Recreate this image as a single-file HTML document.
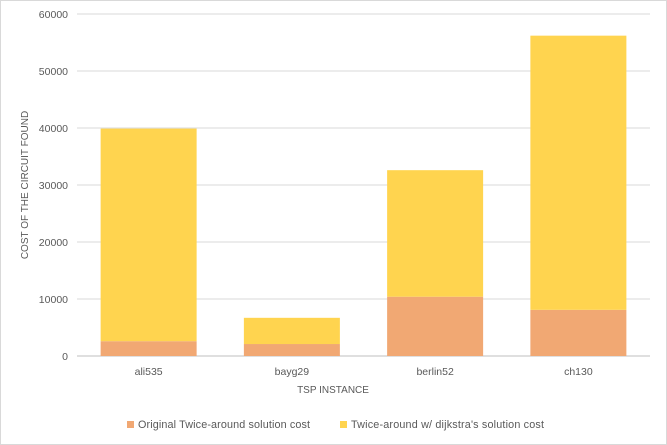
<!DOCTYPE html>
<html><head><style>
body{margin:0;background:#fff;}
svg{display:block;font-family:"Liberation Sans",sans-serif;}
</style></head><body>
<svg id="chart" width="667" height="445">
<rect x="0.5" y="0.5" width="666" height="444" fill="#fff" stroke="#d9d9d9"/>
<g id="grid"></g><g id="bars"></g><g id="labels"></g>
<text x="333" y="393" text-anchor="middle" font-size="10" fill="#595959">TSP INSTANCE</text>
<text transform="translate(28,185) rotate(-90)" text-anchor="middle" font-size="10" fill="#595959">COST OF THE CIRCUIT FOUND</text>
<g>
<rect x="127" y="421" width="7" height="7" fill="#F1A873"/>
<text x="138" y="428" font-size="10.8" textLength="172" fill="#595959">Original Twice-around solution cost</text>
<rect x="340" y="421" width="7" height="7" fill="#FFD44F"/>
<text x="351" y="428" font-size="10.8" textLength="193" fill="#595959">Twice-around w/ dijkstra's solution cost</text>
</g>
</svg>
<script>
const categories=["ali535","bayg29","berlin52","ch130"];
const originalCost=[2600,2100,10400,8100];
const dijkstraCost=[37300,4600,22200,48100];
const yTicks=[0,10000,20000,30000,40000,50000,60000];
const NS="http://www.w3.org/2000/svg";
const x0=77,x1=650,yBase=356,yTop=14,yMax=60000;
const y=v=>yBase-(v/yMax)*(yBase-yTop);
const band=(x1-x0)/categories.length;
const bw=96;
function mk(tag,attrs,parent){const e=document.createElementNS(NS,tag);for(const k in attrs)e.setAttribute(k,attrs[k]);parent.appendChild(e);return e;}
const grid=document.getElementById('grid'),bars=document.getElementById('bars'),labels=document.getElementById('labels');
yTicks.forEach(t=>{
  const l=mk('line',{x1:x0,x2:x1,y1:y(t),y2:y(t),stroke:t===0?'#bfbfbf':'#d9d9d9','stroke-width':1},grid);
  
  
  const tx=mk('text',{x:68,y:y(t)+4,'text-anchor':'end','font-size':10.5,fill:'#595959'},labels);
  tx.textContent=t;
  
  
});
categories.forEach((c,i)=>{
  const cx=x0+band*(i+0.5);
  const o=originalCost[i],d=dijkstraCost[i];
  const r1=mk('rect',{x:cx-bw/2,y:y(o),width:bw,height:yBase-y(o),fill:'#F1A873'},bars);
  
  
  const r2=mk('rect',{x:cx-bw/2,y:y(o+d),width:bw,height:y(o)-y(o+d),fill:'#FFD44F'},bars);
  
  
  const tx=mk('text',{x:cx,y:375,'text-anchor':'middle','font-size':10.5,fill:'#595959'},labels);
  tx.textContent=c;
  
  
});
</script>
</body></html>
